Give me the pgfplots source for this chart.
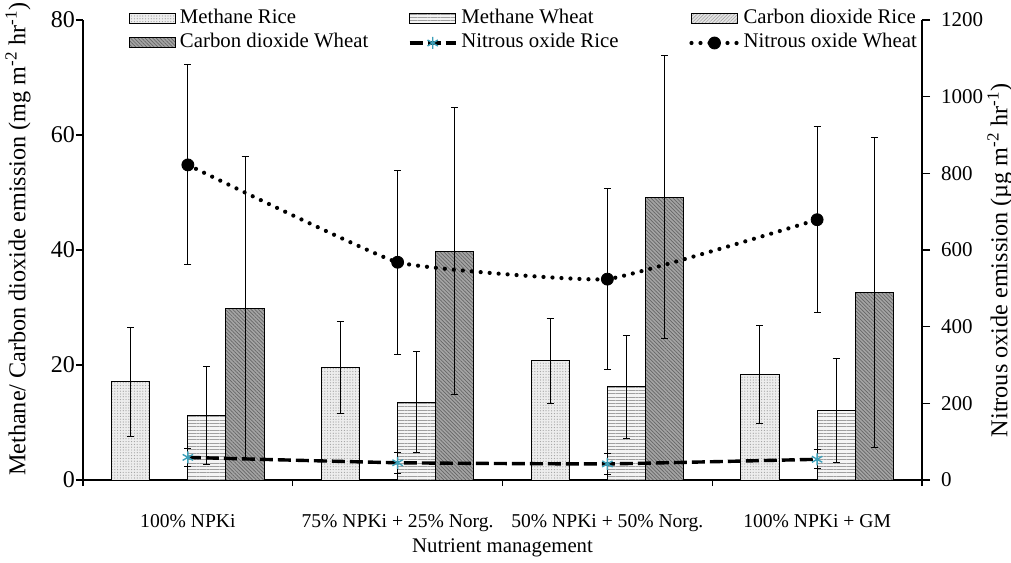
\documentclass[border=0pt]{standalone}
\usepackage{pgfplots}
\pgfplotsset{compat=1.18}
\usepackage{pgfplotstable}
\usepackage{fontspec}
\setmainfont{Liberation Serif}
\usetikzlibrary{patterns.meta}

\definecolor{mrfill}{HTML}{EDEDED}
\definecolor{mwfill}{HTML}{F4F4F4}
\definecolor{crfill}{HTML}{E4E4E4}
\definecolor{cwfill}{HTML}{A4A4A4}
\definecolor{startl}{RGB}{60,160,185}

\pgfplotstableread{
x mr mre mw mwe cw cwe
0 17.1 9.5 11.2 8.5 29.9 26.3
1 19.5 8.0 13.5 8.8 39.8 25.0
2 20.7 7.4 16.2 9.0 49.2 24.6
3 18.4 8.5 12.1 9.0 32.6 27.0
}\bars

\pgfplotstableread{
x nr nre nw nwe
0 59 24 822 261
1 45 27 568 240
2 42 27 524 237
3 54 25 679 242
}\nitrous

\pgfplotsset{
  barleg/.style={legend image code/.code={\draw[##1] (0pt,-2.5pt) rectangle (23pt,2.5pt);}},
  lineleg/.style={legend image code/.code={\draw[mark repeat=2,mark phase=2,##1] plot coordinates {(0pt,0pt) (11.5pt,0pt) (23pt,0pt)};}},
  mrstyle/.style={fill=mrfill, draw=black, line width=0.5pt, postaction={pattern={Dots[distance=1.4pt, radius=0.3pt]}, pattern color=gray!75}},
  mwstyle/.style={fill=mwfill, draw=black, line width=0.5pt, postaction={pattern={Lines[angle=0, distance=1.65pt, line width=0.45pt]}, pattern color=gray!75}},
  crstyle/.style={fill=crfill, draw=black, line width=0.5pt, postaction={pattern={Lines[angle=45, distance=1.2pt, line width=0.3pt]}, pattern color=gray!70}},
  cwstyle/.style={fill=cwfill, draw=black, line width=0.5pt, postaction={pattern={Lines[angle=-45, distance=1.3pt, line width=0.35pt]}, pattern color=black!60}},
  nrstyle/.style={black, line width=1.7pt, dash pattern=on 6.5pt off 2.5pt, smooth, tension=0.2, mark=asterisk, mark size=3pt, mark options={solid, draw=startl, line width=0.7pt}},
  nwstyle/.style={black, line width=2.1pt, line cap=round, dash pattern=on 0pt off 4.5pt, smooth, tension=0.2, mark=*, mark size=3pt, mark options={solid, fill=black, line width=0.4pt}},
  errplot/.style={forget plot, draw=none, mark=none,
    error bars/.cd, y dir=both, y explicit, error mark=-,
    error bar style={draw=black, solid, line width=0.5pt},
    error mark options={draw=black, solid, line width=0.5pt, mark size=1.75pt, rotate=90}},
  common/.style={
    scale only axis, width=419.5pt, height=230pt,
    xmin=-0.5, xmax=3.5,
    axis line style={-, line width=0.75pt},
    tick align=outside,
    tick style={black, line width=0.6pt},
    /pgf/number format/assume math mode=true,
    /pgf/number format/1000 sep={},
  },
}

\begin{document}
\begin{tikzpicture}
\path[use as bounding box] (-41.5pt,-41pt) rectangle (464pt,240pt);

\begin{axis}[common,
  ymin=0, ymax=80,
  axis x line*=bottom, axis y line*=left,
  xtick={0,1,2,3},
  xticklabels={100\% NPKi, 75\% NPKi + 25\% Norg., 50\% NPKi + 50\% Norg., 100\% NPKi + GM},
  xticklabel style={font=\fontsize{9.8}{11}\selectfont, anchor=base, yshift=-20pt},
  major x tick style={draw=none},
  minor xtick={-0.5,0.5,1.5,2.5,3.5},
  minor x tick style={black, line width=0.6pt},
  minor tick length=3pt,
  major tick length=3.5pt,
  ytick={0,20,40,60,80},
  yticklabel style={font=\fontsize{12}{13}\selectfont, anchor=east, xshift=3pt},
  xlabel={Nutrient management},
  xlabel style={font=\fontsize{10.4}{12}\selectfont, at={(axis description cs:0.5,-0.148)}, anchor=center},
  ylabel={Methane/ Carbon dioxide emission (mg m\textsuperscript{-2} hr\textsuperscript{-1})},
  ylabel style={font=\fontsize{12.1}{13}\selectfont, at={(axis description cs:-0.0775,0.524)}, anchor=center},
]
\addplot[ybar, bar width=0.1816, bar shift=-0.2724, mrstyle] table[x=x, y=mr]{\bars};
\addplot[ybar, bar width=0.1816, bar shift=0.0908, mwstyle] table[x=x, y=mw]{\bars};
\addplot[ybar, bar width=0.1816, bar shift=0.2724, cwstyle] table[x=x, y=cw]{\bars};
\addplot[errplot] table[x expr=\thisrow{x}-0.2724, y=mr, y error=mre]{\bars};
\addplot[errplot] table[x expr=\thisrow{x}+0.0908, y=mw, y error=mwe]{\bars};
\addplot[errplot] table[x expr=\thisrow{x}+0.2724, y=cw, y error=cwe]{\bars};
\end{axis}

\begin{axis}[common,
  ymin=0, ymax=1200,
  axis x line=none, axis y line*=right,
  ytick={0,200,...,1200},
  major tick length=4pt,
  yticklabel style={font=\fontsize{10.5}{12}\selectfont, anchor=west, xshift=2pt},
  ylabel={Nitrous oxide emission (µg m\textsuperscript{-2} hr\textsuperscript{-1})},
  ylabel style={font=\fontsize{12.1}{13}\selectfont, at={(axis description cs:1.093,0.478)}, anchor=center},
  legend columns=3,
  legend style={draw=none, fill=none, inner sep=0pt, outer sep=0pt,
    at={(axis description cs:0,1)}, anchor=north west, xshift=23pt, yshift=5pt,
    font=\fontsize{10.4}{12}\selectfont,
    nodes={inner sep=0pt, text height=7pt, text depth=2pt},
    column sep=2pt, row sep=3pt},
]
\addlegendimage{barleg, mrstyle}
\addlegendentry{\makebox[112pt][l]{Methane Rice}}
\addlegendimage{barleg, mwstyle}
\addlegendentry{\makebox[112pt][l]{Methane Wheat}}
\addlegendimage{barleg, crstyle}
\addlegendentry{\makebox[112pt][l]{Carbon dioxide Rice}}
\addlegendimage{barleg, cwstyle}
\addlegendentry{\makebox[112pt][l]{Carbon dioxide Wheat}}
\addplot[errplot] table[x=x, y=nr, y error=nre]{\nitrous};
\addplot[errplot] table[x=x, y=nw, y error=nwe]{\nitrous};
\addplot[nrstyle, lineleg] table[x=x, y=nr]{\nitrous};
\addlegendentry{\makebox[112pt][l]{Nitrous oxide Rice}}
\addplot[nwstyle, lineleg] table[x=x, y=nw]{\nitrous};
\addlegendentry{\makebox[112pt][l]{Nitrous oxide Wheat}}
\end{axis}
\end{tikzpicture}
\end{document}
